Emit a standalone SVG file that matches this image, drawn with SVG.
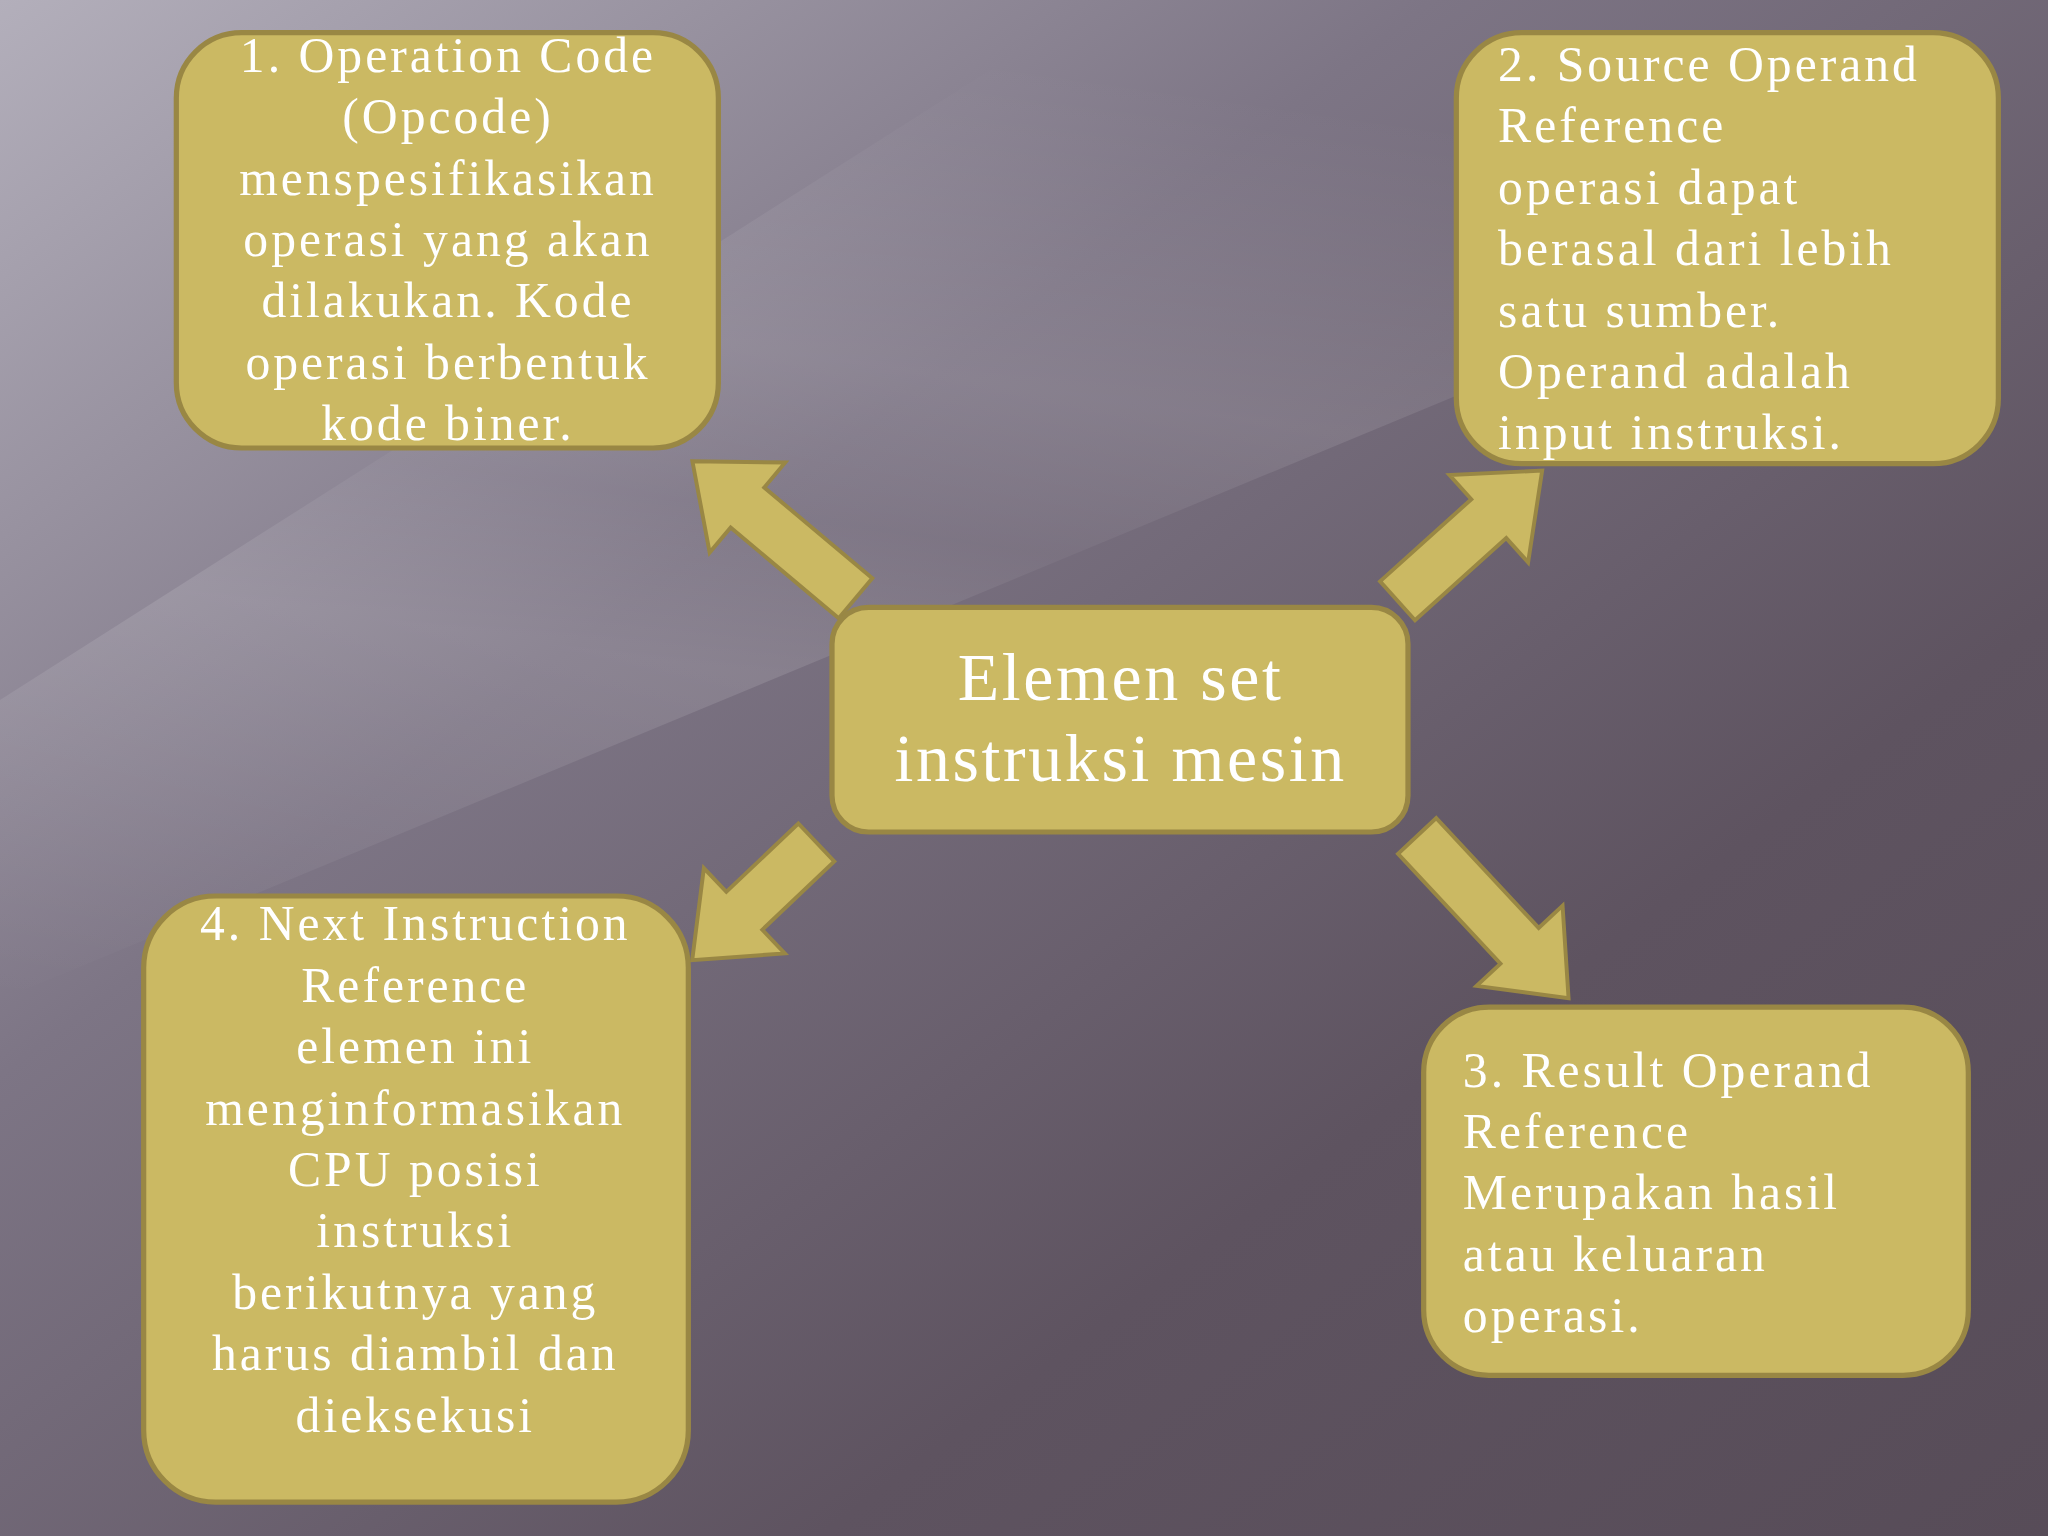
<svg xmlns="http://www.w3.org/2000/svg" width="2048" height="1536" viewBox="0 0 2048 1536">
<defs>
<linearGradient id="bg" x1="0" y1="0" x2="1" y2="1">
<stop offset="0" stop-color="#b3afbb"/>
<stop offset="0.35" stop-color="#7d7585"/>
<stop offset="0.7" stop-color="#5e5360"/>
<stop offset="1" stop-color="#574c58"/>
</linearGradient>
<linearGradient id="streak" x1="0" y1="1" x2="0.3" y2="0">
<stop offset="0" stop-color="#ffffff" stop-opacity="0"/>
<stop offset="0.4" stop-color="#ffffff" stop-opacity="0.12"/>
<stop offset="0.55" stop-color="#ffffff" stop-opacity="0.04"/>
<stop offset="0.7" stop-color="#ffffff" stop-opacity="0.1"/>
<stop offset="1" stop-color="#ffffff" stop-opacity="0"/>
</linearGradient>
<style>
.box{fill:#cbb963;stroke:#998744;stroke-width:4}
.arr{fill:#cbb963;stroke:#998744;stroke-width:3}
.t{font-family:"Liberation Serif","DejaVu Serif",serif;fill:#ffffff;font-size:38px;letter-spacing:2.3px}
.c{text-anchor:middle}
.big{font-size:52px;letter-spacing:2px}
</style>
</defs>
<rect width="2048" height="1536" fill="url(#bg)"/>
<polygon points="0,700 1100,0 2048,0 2048,150 0,1000" fill="url(#streak)"/>
<g transform="scale(1.30612)">
<g id="connectors">
<polygon class="arr" transform="translate(655,458) rotate(-140)" points="0,-20 108,-20 108,-45 163,0 108,45 108,20 0,20"/>
<polygon class="arr" transform="translate(1070,460) rotate(-42)" points="0,-20 94,-20 94,-45 149,0 94,45 94,20 0,20"/>
<polygon class="arr" transform="translate(1085,640) rotate(47)" points="0,-20 115,-20 115,-45 170,0 115,45 115,20 0,20"/>
<polygon class="arr" transform="translate(625,645) rotate(136.5)" points="0,-20 76,-20 76,-45 131,0 76,45 76,20 0,20"/>
</g>
<g id="n1">
<rect class="box" x="135" y="25" width="415" height="318" rx="50"/>
<text class="t c"><tspan x="343" y="55">1. Operation Code</tspan><tspan x="343" y="102">(Opcode)</tspan><tspan x="343" y="149">menspesifikasikan</tspan><tspan x="343" y="196">operasi yang akan</tspan><tspan x="343" y="243">dilakukan. Kode</tspan><tspan x="343" y="290">operasi berbentuk</tspan><tspan x="343" y="337">kode biner.</tspan></text>
</g>
<g id="n2">
<rect class="box" x="1115" y="25" width="415" height="330" rx="50"/>
<text class="t"><tspan x="1147" y="62">2. Source Operand</tspan><tspan x="1147" y="109">Reference</tspan><tspan x="1147" y="156">operasi dapat</tspan><tspan x="1147" y="203">berasal dari lebih</tspan><tspan x="1147" y="250">satu sumber.</tspan><tspan x="1147" y="297">Operand adalah</tspan><tspan x="1147" y="344">input instruksi.</tspan></text>
</g>
<g id="center">
<rect class="box" x="637" y="465" width="441" height="172" rx="28"/>
<text class="t c big"><tspan x="858" y="536">Elemen set</tspan><tspan x="858" y="598">instruksi mesin</tspan></text>
</g>
<g id="n3">
<rect class="box" x="1090" y="771" width="417" height="282" rx="50"/>
<text class="t"><tspan x="1120" y="832">3. Result Operand</tspan><tspan x="1120" y="879">Reference</tspan><tspan x="1120" y="926">Merupakan hasil</tspan><tspan x="1120" y="973">atau keluaran</tspan><tspan x="1120" y="1020">operasi.</tspan></text>
</g>
<g id="n4">
<rect class="box" x="110" y="686" width="417" height="464" rx="55"/>
<text class="t c"><tspan x="318" y="720">4. Next Instruction</tspan><tspan x="318" y="767">Reference</tspan><tspan x="318" y="814">elemen ini</tspan><tspan x="318" y="861">menginformasikan</tspan><tspan x="318" y="908">CPU posisi</tspan><tspan x="318" y="955">instruksi</tspan><tspan x="318" y="1002">berikutnya yang</tspan><tspan x="318" y="1049">harus diambil dan</tspan><tspan x="318" y="1096">dieksekusi</tspan></text>
</g>
</g>
</svg>
